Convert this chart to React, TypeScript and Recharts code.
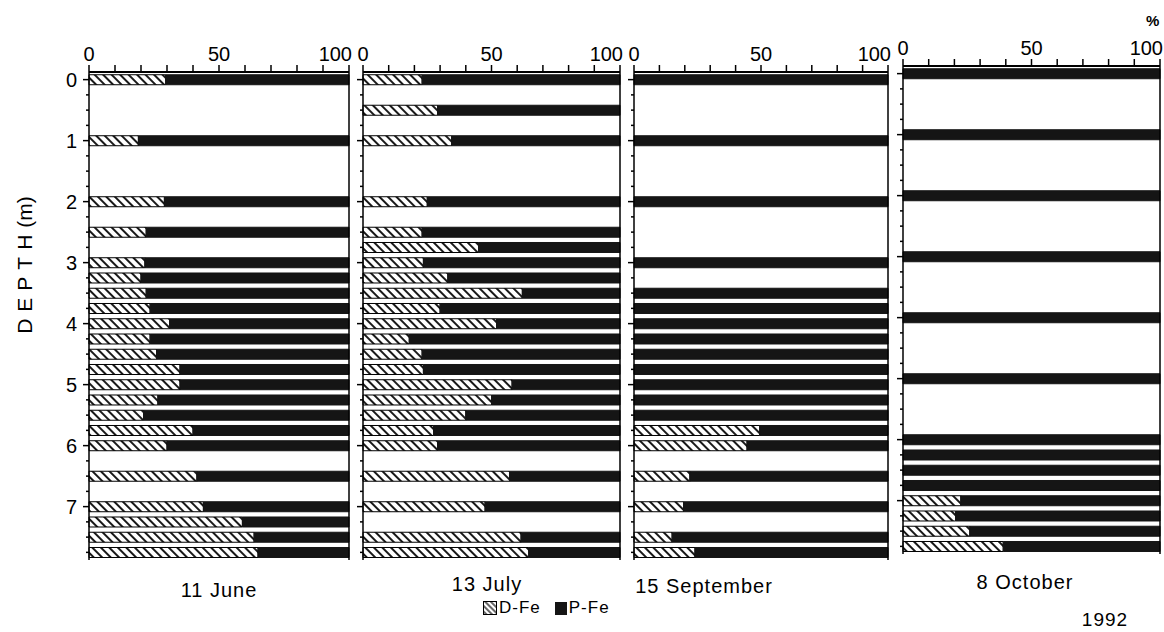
import React from "react";
import { BarChart, Bar, XAxis, YAxis, ReferenceLine } from "recharts";

// depth rows (m), one band per 0.25 m
const depthCategories = [
  0, 0.25, 0.5, 0.75, 1, 1.25, 1.5, 1.75, 2, 2.25, 2.5, 2.75, 3, 3.25, 3.5, 3.75,
  4, 4.25, 4.5, 4.75, 5, 5.25, 5.5, 5.75, 6, 6.25, 6.5, 6.75, 7, 7.25, 7.5, 7.75,
];
const percentTicks = [0, 10, 20, 30, 40, 50, 60, 70, 80, 90, 100];
const percentLabels = [0, 50, 100];

// D-Fe share (%) per sampled depth; P-Fe is the remainder
const juneDepths = [0, 1, 2, 2.5, 3, 3.25, 3.5, 3.75, 4, 4.25, 4.5, 4.75, 5, 5.25, 5.5, 5.75, 6, 6.5, 7, 7.25, 7.5, 7.75];
const juneDFe = [29.5, 19, 29, 22, 21.5, 20, 22, 23.5, 31, 23.5, 26, 35, 35, 26.5, 21, 40, 30, 41.5, 44, 59, 63.5, 65];

const julyDepths = [0, 0.5, 1, 2, 2.5, 2.75, 3, 3.25, 3.5, 3.75, 4, 4.25, 4.5, 4.75, 5, 5.25, 5.5, 5.75, 6, 6.5, 7, 7.5, 7.75];
const julyDFe = [23, 29, 34.5, 25, 23, 45, 23.5, 33, 62, 30, 52, 18, 23, 23.5, 58, 50, 40, 27.5, 29, 57, 47.5, 61.5, 64.5];

const septDepths = [0, 1, 2, 3, 3.5, 3.75, 4, 4.25, 4.5, 4.75, 5, 5.25, 5.5, 5.75, 6, 6.5, 7, 7.5, 7.75];
const septDFe = [0, 0, 0, 0, 0, 0, 0, 0, 0, 0, 0, 0, 0, 49.5, 44.5, 22, 19.5, 15, 24];

const octDepths = [0, 1, 2, 3, 4, 5, 6, 6.25, 6.5, 6.75, 7, 7.25, 7.5, 7.75];
const octDFe = [0, 0, 0, 0, 0, 0, 0, 0, 0, 0, 22.5, 20.5, 26, 39];

const FONT = "'Liberation Sans', 'DejaVu Sans', sans-serif";

function buildRows(depths: number[], dFe: number[]) {
  return depthCategories.map((d) => {
    const i = depths.indexOf(d);
    if (i < 0) return { depth: d, dFe: null, pFe: null };
    return { depth: d, dFe: dFe[i] > 0 ? dFe[i] : null, pFe: 100 - dFe[i] };
  });
}

const panels = [
  { id: "jun", title: "11 June", depths: juneDepths, dFe: juneDFe, plotLeft: 89, plotW: 260, top: 0, labels: true, tx: 219, ty: 590 },
  { id: "jul", title: "13 July", depths: julyDepths, dFe: julyDFe, plotLeft: 363, plotW: 257, top: 0, labels: false, tx: 487, ty: 584 },
  { id: "sep", title: "15 September", depths: septDepths, dFe: septDFe, plotLeft: 634, plotW: 254, top: 0, labels: false, tx: 704, ty: 586 },
  { id: "oct", title: "8 October", depths: octDepths, dFe: octDFe, plotLeft: 903, plotW: 257, top: -6, labels: false, tx: 1025, ty: 582 },
];

function DepthTick(props: any) {
  const { x, y, payload, showLabel } = props;
  const v = Number(payload.value);
  const major = Number.isInteger(v);
  return (
    <g>
      <line x1={x - (major ? 6 : 3)} x2={x} y1={y} y2={y} stroke="#000" strokeWidth={1.5} />
      {showLabel && major && (
        <text x={x - 12} y={y} dy="0.36em" textAnchor="end" fontSize={20} fontFamily={FONT} fill="#000">
          {v}
        </text>
      )}
    </g>
  );
}

function PercentTick(props: any) {
  const { x, y, payload } = props;
  const v = Number(payload.value);
  const show = percentLabels.includes(v);
  return (
    <g>
      <line x1={x} x2={x} y1={y - 7} y2={y} stroke="#000" strokeWidth={1.5} />
      {show && (
        <text
          x={v === 100 ? x + 3 : x}
          y={y - 11}
          textAnchor={v === 100 ? "end" : "middle"}
          fontSize={20}
          fontFamily={FONT}
          fill="#000"
        >
          {v}
        </text>
      )}
    </g>
  );
}

function Panel({ p }: { p: (typeof panels)[number] }) {
  const yW = p.labels ? 45 : 12;
  const data = buildRows(p.depths, p.dFe);
  const hatchId = `hatch-${p.id}`;
  return (
    <div style={{ position: "absolute", left: p.plotLeft - yW, top: p.top }}>
      <BarChart
        width={yW + p.plotW + 4}
        height={560}
        data={data}
        layout="vertical"
        margin={{ top: 0, right: 4, bottom: 0, left: 0 }}
        barCategoryGap="18%"
      >
        <defs>
          <pattern id={hatchId} width={6} height={6} patternUnits="userSpaceOnUse" patternTransform="rotate(-45)">
            <rect width={6} height={6} fill="#fff" />
            <line x1={1} y1={0} x2={1} y2={6} stroke="#000" strokeWidth={1.8} />
          </pattern>
        </defs>
        <XAxis
          type="number"
          orientation="top"
          domain={[0, 100]}
          ticks={percentTicks}
          height={72}
          tickSize={0}
          tickMargin={0}
          tickLine={false}
          axisLine={{ stroke: "#000", strokeWidth: 2 }}
          tick={<PercentTick />}
          interval={0}
        />
        <YAxis
          type="category"
          dataKey="depth"
          width={yW}
          interval={0}
          tickSize={0}
          tickMargin={0}
          tickLine={false}
          axisLine={{ stroke: "#000", strokeWidth: 1.5 }}
          tick={<DepthTick showLabel={p.labels} />}
        />
        <ReferenceLine x={100} stroke="#000" strokeWidth={1.5} ifOverflow="extendDomain" />
        <Bar dataKey="dFe" stackId="fe" fill={`url(#${hatchId})`} stroke="#000" strokeWidth={1} isAnimationActive={false} />
        <Bar dataKey="pFe" stackId="fe" fill="#151515" stroke="#151515" strokeWidth={1} isAnimationActive={false} />
      </BarChart>
    </div>
  );
}

function HatchSwatch() {
  return (
    <svg width={14} height={14} style={{ display: "block" }}>
      <defs>
        <pattern id="hatch-legend" width={4} height={4} patternUnits="userSpaceOnUse" patternTransform="rotate(-45)">
          <rect width={4} height={4} fill="#fff" />
          <line x1={1} y1={0} x2={1} y2={4} stroke="#000" strokeWidth={1.2} />
        </pattern>
      </defs>
      <rect x={0.5} y={0.5} width={13} height={13} fill="url(#hatch-legend)" stroke="#000" />
    </svg>
  );
}

export default function App() {
  const textStyle: React.CSSProperties = {
    position: "absolute",
    fontFamily: FONT,
    fontSize: 20,
    letterSpacing: 1,
    whiteSpace: "nowrap",
    color: "#000",
    transform: "translate(-50%, -50%)",
  };
  return (
    <div
      style={{
        position: "absolute",
        left: 0,
        top: 0,
        width: 1164,
        height: 632,
        background: "#fff",
        overflow: "hidden",
        fontFamily: FONT,
      }}
    >
      {panels.map((p) => (
        <Panel key={p.id} p={p} />
      ))}

      {panels.map((p) => (
        <div key={`t-${p.id}`} style={{ ...textStyle, left: p.tx, top: p.ty }}>
          {p.title}
        </div>
      ))}

      <div
        style={{
          ...textStyle,
          left: 25,
          top: 265,
          fontSize: 21,
          letterSpacing: 0,
          transform: "translate(-50%, -50%) rotate(-90deg)",
        }}
      >
        <span style={{ letterSpacing: 7 }}>DEPTH</span>
        <span>(m)</span>
      </div>

      <div style={{ position: "absolute", left: 1146, top: 12, fontSize: 15, fontWeight: "bold", fontFamily: FONT }}>%</div>

      <div
        style={{
          position: "absolute",
          left: 483,
          top: 598,
          display: "flex",
          alignItems: "center",
          fontSize: 17,
          letterSpacing: 1,
          fontFamily: FONT,
        }}
      >
        <HatchSwatch />
        <span style={{ marginLeft: 2 }}>D-Fe</span>
        <span style={{ display: "inline-block", width: 12, height: 13, background: "#151515", marginLeft: 14 }} />
        <span style={{ marginLeft: 2 }}>P-Fe</span>
      </div>

      <div style={{ ...textStyle, left: 1105, top: 620, fontSize: 19 }}>1992</div>
    </div>
  );
}
